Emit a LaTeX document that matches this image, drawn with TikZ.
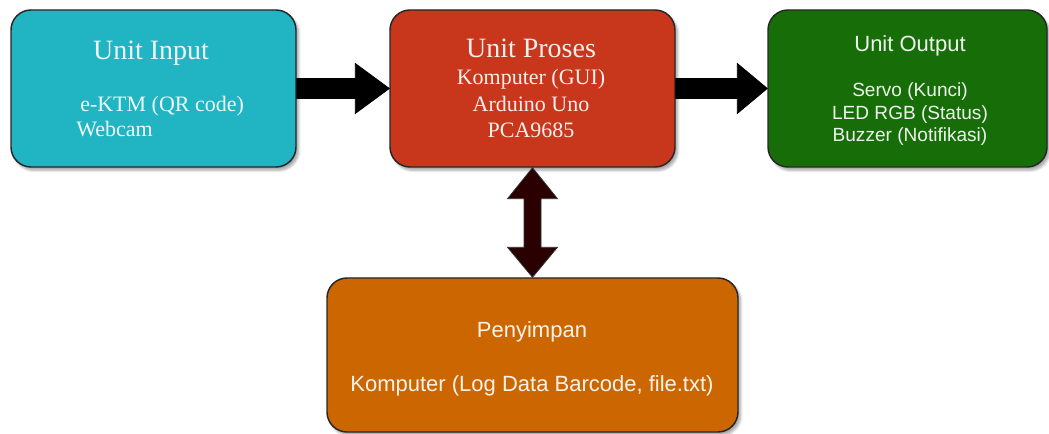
\documentclass[tikz,border=0pt]{standalone}
\usepackage{fontspec}
\setmainfont{Liberation Serif}
\setsansfont{Liberation Sans}
\usetikzlibrary{calc,shadows.blur}
\definecolor{inputcol}{HTML}{21B4C3}
\definecolor{proccol}{HTML}{C8361C}
\definecolor{outcol}{HTML}{176E09}
\definecolor{storecol}{HTML}{CC6600}
\definecolor{linkcol}{HTML}{2B0000}
\tikzset{
  unitbox/.style={draw=black!85, line width=1.1pt, rounded corners=15pt,
    minimum width=#1, inner sep=0pt,
    blur shadow={shadow xshift=2pt, shadow yshift=-2.5pt, shadow opacity=35, shadow blur steps=6}},
  txt/.style={anchor=base, inner sep=0pt, text=white!92!#1},
  ttlserif/.style={font=\fontsize{21}{21}\selectfont},
  bodyserif/.style={font=\fontsize{16.5}{16.5}\selectfont},
  ttlsans/.style={font=\sffamily\fontsize{16.5}{16.5}\selectfont},
  bodysans/.style={font=\sffamily\fontsize{14.3}{14.3}\selectfont},
  flowarrow/.style={fill=black, draw=black, line width=0.6pt, line join=miter},
  linkarrow/.style={fill=linkcol, draw=black!80, line width=0.6pt, line join=miter},
}
\begin{document}
\begin{tikzpicture}[x=0.75pt, y=-0.75pt]
\useasboundingbox (0,0) rectangle (1049,434);

% unit boxes
\node[unitbox=213.75pt, fill=inputcol, minimum height=117.75pt] (in)    at (153.5,88.5) {};
\node[unitbox=213.75pt, fill=proccol, minimum height=117.75pt] (proc) at (532.5,88.5) {};
\node[unitbox=209.25pt, fill=outcol, minimum height=117.75pt] (out)   at (907.5,88.5) {};
\node[unitbox=308.25pt, fill=storecol, minimum height=115.5pt] (store) at (532.5,355) {};

% input unit text
\node[txt=inputcol, ttlserif] (inT) at (151,60) {Unit Input};
\node[txt=inputcol, bodyserif, anchor=base west] (inA) at (80,112) {e-KTM (QR code)};
\node[txt=inputcol, bodyserif, anchor=base west] (inB) at (76,137) {Webcam};

% process unit text
\node[txt=proccol, ttlserif] (prT) at (531,58) {Unit Proses};
\node[txt=proccol, bodyserif] (prA) at (531,85) {Komputer (GUI)};
\node[txt=proccol, bodyserif] (prB) at (531,112) {Arduino Uno};
\node[txt=proccol, bodyserif] (prC) at (531,138) {PCA9685};

% output unit text
\node[txt=outcol, ttlsans] (ouT) at (910,52) {Unit Output};
\node[txt=outcol, bodysans] (ouA) at (910,97) {Servo (Kunci)};
\node[txt=outcol, bodysans] (ouB) at (910,120) {LED RGB (Status)};
\node[txt=outcol, bodysans] (ouC) at (910,142) {Buzzer (Notifikasi)};

% storage text
\node[txt=storecol, ttlsans] (stT) at (532,338) {Penyimpan};
\node[txt=storecol, ttlsans] (stA) at (532,392) {Komputer (Log Data Barcode, file.txt)};

% input -> process
\draw[flowarrow] ($(in.east)+(0,-10)$) -- ($(proc.west)+(-34,-10)$) -- ($(proc.west)+(-34,-25)$)
  -- (proc.west) -- ($(proc.west)+(-34,25)$) -- ($(proc.west)+(-34,10)$) -- ($(in.east)+(0,10)$) -- cycle;
% process -> output
\draw[flowarrow] ($(proc.east)+(0,-10)$) -- ($(out.west)+(-30,-10)$) -- ($(out.west)+(-30,-25)$)
  -- (out.west) -- ($(out.west)+(-30,25)$) -- ($(out.west)+(-30,10)$) -- ($(proc.east)+(0,10)$) -- cycle;
% process <-> storage
\draw[linkarrow] (proc.south) -- ($(proc.south)+(25,31)$) -- ($(proc.south)+(8.5,31)$)
  -- ($(store.north)+(8.5,-30)$) -- ($(store.north)+(25,-30)$) -- (store.north)
  -- ($(store.north)+(-25,-30)$) -- ($(store.north)+(-8.5,-30)$)
  -- ($(proc.south)+(-8.5,31)$) -- ($(proc.south)+(-25,31)$) -- cycle;
\end{tikzpicture}
\end{document}
